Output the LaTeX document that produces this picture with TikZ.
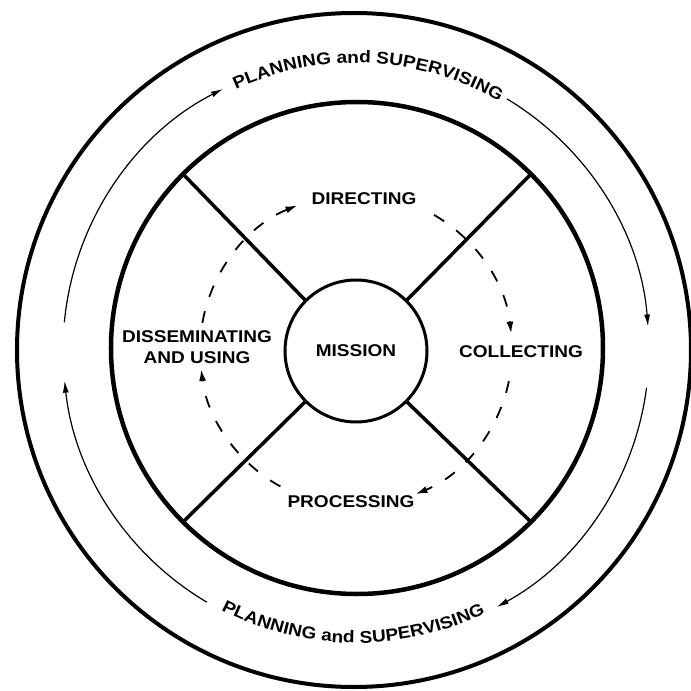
\documentclass[tikz,border=0pt]{standalone}
\usepackage{fontspec}
\newfontfamily\lbl{Liberation Sans}[FakeStretch=1.12]
\usetikzlibrary{arrows.meta,decorations.text}
\newcommand\labfont{\lbl\bfseries\fontsize{17}{21}\selectfont}
\tikzset{
  x=1pt, y=1pt,
  outerring/.style={circle, draw, line width=4pt, inner sep=0pt, outer sep=0pt, minimum size=674pt},
  innerring/.style={circle, draw, line width=4.5pt, inner sep=0pt, outer sep=0pt, minimum size=492pt},
  hub/.style={circle, draw, line width=3pt, inner sep=0pt, outer sep=0pt, minimum size=142pt, font=\labfont},
  spoke/.style={line width=3.5pt},
  lab/.style={font=\labfont, align=center, inner sep=1pt},
  cyc/.style={line width=1.8pt, dash pattern=on 12pt off 15pt, -{Latex[length=12pt,width=7pt]}},
  plan/.style={line width=1.2pt, -{Latex[length=12pt,width=6pt]}},
  arctext/.style={decorate, decoration={text along path, text align=center, text={|\labfont|#1}}}
}
\begin{document}
\begin{tikzpicture}
\useasboundingbox (-356,-341) rectangle (335,350);
\fill[white] (-356,-341) rectangle (335,350);

% rings
\node[outerring] (outer) at (-2,0) {};
\node[innerring] (ring) at (1,2) {};
\node[hub] (mission) at (0,-1) {MISSION};

% spokes
\draw[spoke] (mission.45) -- (ring.45);
\draw[spoke] (mission.135) -- (ring.135);
\draw[spoke] (mission.225) -- (ring.225);
\draw[spoke] (mission.315) -- (ring.315);

% labels
\node[lab] (dir) at (8,151) {DIRECTING};
\node[lab] (col) at (165,-2) {COLLECTING};
\node[lab] (dis) at (-159,3) {DISSEMINATING\\AND USING};
\node[lab] (pro) at (-5,-152) {PROCESSING};

% dashed cycle
\draw[cyc] (170:156) arc[start angle=170, end angle=112, radius=156];
\draw[cyc] (60:156) arc[start angle=60, end angle=6, radius=156];
\draw[cyc] (-11.5:156) arc[start angle=-11.5, end angle=-67.6, radius=156];
\draw[cyc] (-119:156) arc[start angle=-119, end angle=-173, radius=156];

% planning and supervising arrows
\draw[plan] (174.6:293) arc[start angle=174.6, end angle=117, radius=293];
\draw[plan] (59:293) arc[start angle=59, end angle=4.6, radius=293];
\draw[plan] (-7.4:293) arc[start angle=-7.4, end angle=-61.3, radius=293];
\draw[plan] (-120.6:293) arc[start angle=-120.6, end angle=-174, radius=293];

% texts along arcs
\path[arctext={PLANNING and SUPERVISING}] (117.4:287) arc[start angle=117.4, end angle=57.4, radius=287];
\path[arctext={PLANNING and SUPERVISING}] (-120.6:293) arc[start angle=-120.6, end angle=-60.6, radius=293];
\end{tikzpicture}
\end{document}
